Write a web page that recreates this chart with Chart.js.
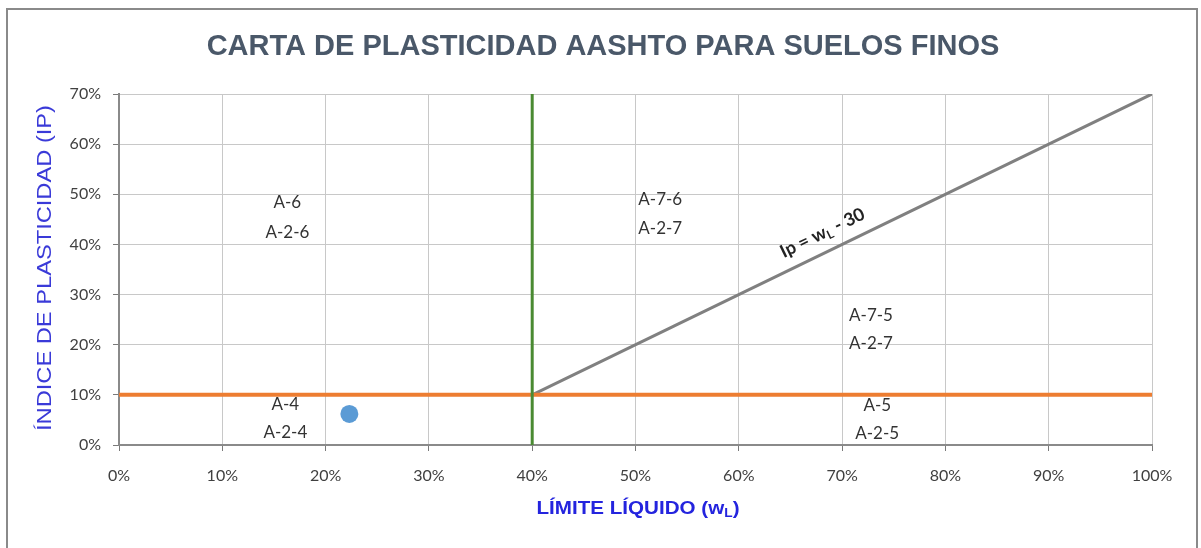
<!DOCTYPE html>
<html>
<head>
<meta charset="utf-8">
<script src="https://cdn.jsdelivr.net/npm/chart.js@4.4.1/dist/chart.umd.min.js"></script>
<style>
  html, body { margin: 0; padding: 0; background: #fff; }
  #wrap { width: 1201px; height: 548px; position: relative; }
</style>
</head>
<body>
<div id="wrap"><canvas id="chart1" width="1201" height="548"></canvas></div>
<script>
// ejes (en %)
const xTicks = [0, 10, 20, 30, 40, 50, 60, 70, 80, 90, 100];
const yTicks = [0, 10, 20, 30, 40, 50, 60, 70];

// limite liquido = 40%
const lineaWLx = [40, 40];
const lineaWLy = [0, 70];
// IP = 10%
const lineaIP10x = [0, 100];
const lineaIP10y = [10, 10];
// Ip = wL - 30
const lineaAx = [40, 100];
const lineaAy = [10, 70];
// muestra
const muestraWL = [22.3];
const muestraIP = [6.2];

// textos de las zonas
const zonaTextos = ['A-6', 'A-2-6', 'A-7-6', 'A-2-7', 'A-7-5', 'A-2-7', 'A-4', 'A-2-4', 'A-5', 'A-2-5'];
const zonaWL = [16.3, 16.3, 52.4, 52.4, 72.8, 72.8, 16.1, 16.1, 73.4, 73.4];
const zonaIP = [48.3, 42.3, 48.9, 43.1, 25.9, 20.3, 8.0, 2.4, 7.8, 2.2];

const toXY = (xs, ys) => xs.map((x, i) => ({ x: x, y: ys[i] }));

// texto con subindice, centrado en (0,0), escalado a un ancho dado
function textoSub(ctx, partes, fuentes, dy, ancho) {
    const w = partes.map((p, i) => { ctx.font = fuentes[i]; return ctx.measureText(p).width; });
    const total = w.reduce((a, b) => a + b, 0);
    const k = ancho ? ancho / total : 1;
    ctx.save();
    ctx.scale(k, 1);
    let x = -total / 2;
    ctx.textAlign = 'left';
    partes.forEach((p, i) => {
        ctx.font = fuentes[i];
        ctx.fillText(p, x, dy[i]);
        x += w[i];
    });
    ctx.restore();
}

// dibuja marco, titulos y etiquetas
const textosPlugin = {
    id: 'textos',
    afterDraw(chart) {
        const ctx = chart.ctx;
        const sx = chart.scales.x, sy = chart.scales.y;
        ctx.save();

        // marco exterior
        ctx.strokeStyle = '#8a8a8a';
        ctx.lineWidth = 2;
        ctx.strokeRect(7, 9, 1190, 560);

        // titulo
        ctx.fillStyle = '#4a5869';
        ctx.font = 'bold 29px "Liberation Sans", Arial, sans-serif';
        ctx.textAlign = 'center';
        ctx.textBaseline = 'middle';
        ctx.fillText('CARTA DE PLASTICIDAD AASHTO PARA SUELOS FINOS', 603, 47);

        // titulo eje x
        ctx.fillStyle = '#2424de';
        ctx.save();
        ctx.translate(638, 509);
        textoSub(ctx, ['LÍMITE LÍQUIDO (w', 'L', ')'],
            ['bold 18px "Liberation Sans"', 'bold 12px "Liberation Sans"', 'bold 18px "Liberation Sans"'],
            [0, 5, 0], 203);
        ctx.restore();

        // titulo eje y
        ctx.fillStyle = '#3a3ad8';
        ctx.save();
        ctx.translate(45, 268);
        ctx.rotate(-Math.PI / 2);
        textoSub(ctx, ['ÍNDICE DE PLASTICIDAD (IP)'], ['21px "Liberation Sans"'], [0], 326);
        ctx.restore();

        // etiquetas de zonas
        ctx.fillStyle = '#333';
        ctx.font = '17px Lato, sans-serif';
        ctx.textAlign = 'center';
        zonaTextos.forEach((t, i) => {
            ctx.fillText(t, sx.getPixelForValue(zonaWL[i]), sy.getPixelForValue(zonaIP[i]));
        });

        // etiqueta de la recta
        const px = sx.getPixelForValue(68.1), py = sy.getPixelForValue(42.3);
        const ang = Math.atan2(sy.getPixelForValue(lineaAy[0]) - sy.getPixelForValue(lineaAy[1]),
                               sx.getPixelForValue(lineaAx[1]) - sx.getPixelForValue(lineaAx[0]));
        ctx.fillStyle = '#222';
        ctx.translate(px, py);
        ctx.rotate(-ang);
        textoSub(ctx, ['Ip = w', 'L', ' - 30'],
            ['bold 18px Lato', 'bold 12px Lato', 'bold 18px Lato'], [0, 5, 0]);
        ctx.restore();
    }
};

const ctx = document.getElementById('chart1').getContext('2d');
const chart1 = new Chart(ctx, {
    type: 'scatter',
    data: {
        datasets: [{
            label: 'Muestra',
            data: toXY(muestraWL, muestraIP),
            backgroundColor: '#5b9bd5',
            borderWidth: 0,
            pointRadius: 9,
            order: 0
        }, {
            label: 'IP = 10%',
            data: toXY(lineaIP10x, lineaIP10y),
            showLine: true,
            borderColor: '#ed7d31',
            borderWidth: 4,
            pointRadius: 0,
            order: 2
        }, {
            label: 'wL = 40%',
            data: toXY(lineaWLx, lineaWLy),
            showLine: true,
            borderColor: '#4a8a32',
            borderWidth: 3,
            pointRadius: 0,
            order: 1
        }, {
            label: 'Ip = wL - 30',
            data: toXY(lineaAx, lineaAy),
            showLine: true,
            borderColor: '#808080',
            borderWidth: 3,
            pointRadius: 0,
            order: 3
        }]
    },
    options: {
        responsive: false,
        animation: false,
        layout: { padding: { top: 94, right: 49, left: 0, bottom: 0 } },
        scales: {
            x: {
                type: 'linear',
                min: 0,
                max: 100,
                afterFit: s => { s.height = 103; },
                afterBuildTicks: s => { s.ticks = xTicks.map(v => ({ value: v })); },
                ticks: {
                    callback: v => v + '%',
                    color: '#404040',
                    font: { family: 'Lato', size: 16 },
                    padding: 15
                },
                grid: { color: '#c8c8c8', tickColor: '#7a7a7a', tickLength: 6 },
                border: { color: '#8a8a8a', width: 2 }
            },
            y: {
                type: 'linear',
                min: 0,
                max: 70,
                afterFit: s => { s.width = 119; },
                afterBuildTicks: s => { s.ticks = yTicks.map(v => ({ value: v })); },
                ticks: {
                    callback: v => v + '%',
                    color: '#404040',
                    font: { family: 'Lato', size: 16 },
                    padding: 12
                },
                grid: { color: '#c8c8c8', tickColor: '#7a7a7a', tickLength: 6 },
                border: { color: '#8a8a8a', width: 2 }
            }
        },
        plugins: {
            legend: { display: false },
            tooltip: { enabled: false }
        }
    },
    plugins: [textosPlugin]
});
</script>
</body>
</html>
